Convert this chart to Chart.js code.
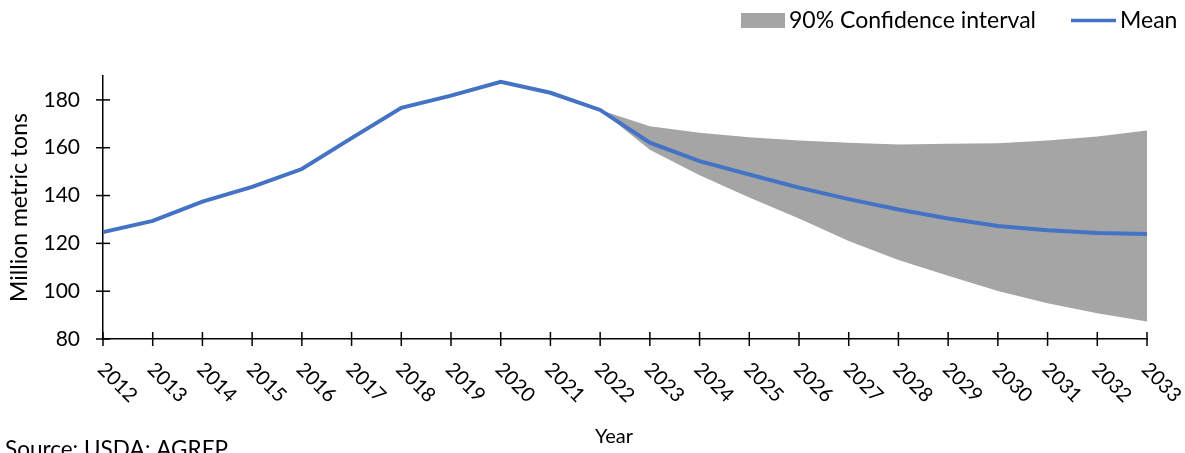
<!DOCTYPE html>
<html>
<head>
<meta charset="utf-8">
<script src="https://cdn.jsdelivr.net/npm/chart.js@4/dist/chart.umd.min.js"></script>
<style>
  html, body { margin: 0; padding: 0; background: #fff; }
  canvas { display: block; }
</style>
</head>
<body>
<canvas id="chart" width="1185" height="453"></canvas>
<script>
// Marketing years on the horizontal axis
const years = ['2012','2013','2014','2015','2016','2017','2018','2019','2020','2021','2022',
               '2023','2024','2025','2026','2027','2028','2029','2030','2031','2032','2033'];

// Mean production path (million metric tons)
const meanValues = [124.7, 129.4, 137.5, 143.6, 151.1, 164.0, 176.7, 181.8, 187.6, 183.0, 175.8,
                    162.1, 154.4, 148.8, 143.3, 138.5, 134.2, 130.4, 127.3, 125.5, 124.3, 123.9];

// 90% confidence interval bounds for the projection years
const upperBound = [null, null, null, null, null, null, null, null, null, null, 175.8,
                    169.0, 166.3, 164.4, 163.0, 162.1, 161.4, 161.7, 161.9, 163.0, 164.7, 167.2];
const lowerBound = [null, null, null, null, null, null, null, null, null, null, 175.8,
                    159.2, 148.5, 139.2, 130.4, 121.0, 113.0, 106.5, 100.1, 95.0, 90.8, 87.3];

// Value-axis tick labels
const yTickValues = [80, 100, 120, 140, 160, 180];

const seriesNames = ['90% Confidence interval', 'Mean'];
const axisTitles = { x: 'Year', y: 'Million metric tons' };
const sourceNote = 'Source: USDA; AGREP';

const FONT = 'Lato, "Open Sans", sans-serif';
const BAND_COLOR = '#A5A5A5';
const LINE_COLOR = '#4472C4';

// Tick marks that cross the axes, rotated year labels, titles and legend
const axisDecor = {
  id: 'axisDecor',
  afterDraw(chart) {
    const { ctx, chartArea: a, scales: { x, y } } = chart;
    ctx.save();
    ctx.strokeStyle = '#000';
    ctx.lineWidth = 1.5;
    ctx.fillStyle = '#000';

    const seg = (x1, y1, x2, y2) => {
      ctx.beginPath(); ctx.moveTo(x1, y1); ctx.lineTo(x2, y2); ctx.stroke();
    };

    // value axis ticks + labels
    ctx.font = `21px ${FONT}`;
    ctx.textAlign = 'right';
    ctx.textBaseline = 'middle';
    yTickValues.forEach(v => {
      const py = y.getPixelForValue(v);
      seg(a.left - 7, py, a.left + 7, py);
      ctx.fillText(String(v), a.left - 23, py);
    });

    // category axis ticks + rotated labels
    ctx.font = `20px ${FONT}`;
    ctx.textAlign = 'left';
    years.forEach((label, i) => {
      const px = x.getPixelForTick(i);
      seg(px, a.bottom - 7, px, a.bottom + 7);
      ctx.save();
      ctx.translate(px - 2, a.bottom + 27);
      ctx.rotate(Math.PI / 4);
      ctx.fillText(label, 0, 0);
      ctx.restore();
    });

    // axis titles
    ctx.textAlign = 'center';
    ctx.font = `23px ${FONT}`;
    ctx.save();
    ctx.translate(20, (a.top + a.bottom) / 2);
    ctx.rotate(-Math.PI / 2);
    ctx.fillText(axisTitles.y, 0, 0);
    ctx.restore();
    ctx.font = `20px ${FONT}`;
    ctx.fillText(axisTitles.x, 614, 437);

    // source note
    ctx.font = `22.5px ${FONT}`;
    ctx.textAlign = 'left';
    ctx.textBaseline = 'top';
    ctx.fillText(sourceNote, 5, 438);

    // legend
    ctx.font = `23px ${FONT}`;
    ctx.textBaseline = 'middle';
    ctx.fillStyle = BAND_COLOR;
    ctx.fillRect(741, 13, 44, 15);
    ctx.fillStyle = '#000';
    ctx.fillText(seriesNames[0], 789, 20.5);
    ctx.strokeStyle = LINE_COLOR;
    ctx.lineWidth = 3.5;
    seg(1071, 20.5, 1116, 20.5);
    ctx.fillText(seriesNames[1], 1120, 20.5);

    ctx.restore();
  }
};

new Chart(document.getElementById('chart'), {
  type: 'line',
  data: {
    labels: years,
    datasets: [
      {
        label: seriesNames[1],
        data: meanValues,
        borderColor: LINE_COLOR,
        borderWidth: 4,
        pointRadius: 0,
        tension: 0,
        fill: false,
        order: 0
      },
      {
        label: seriesNames[0] + ' upper',
        data: upperBound,
        borderWidth: 0,
        borderColor: BAND_COLOR,
        backgroundColor: BAND_COLOR,
        pointRadius: 0,
        fill: '+1',
        order: 1
      },
      {
        label: seriesNames[0] + ' lower',
        data: lowerBound,
        borderWidth: 0,
        borderColor: BAND_COLOR,
        backgroundColor: BAND_COLOR,
        pointRadius: 0,
        fill: false,
        order: 2
      }
    ]
  },
  options: {
    responsive: false,
    devicePixelRatio: 1,
    animation: false,
    events: [],
    layout: { padding: { left: 103, right: 38, top: 76, bottom: 114 } },
    plugins: {
      legend: { display: false },
      tooltip: { enabled: false },
      title: { display: false }
    },
    scales: {
      x: {
        offset: false,
        grid: { display: false, drawTicks: false },
        border: { display: true, color: '#000', width: 1.5 },
        ticks: { display: false }
      },
      y: {
        min: 80,
        max: 190,
        grid: { display: false, drawTicks: false },
        border: { display: true, color: '#000', width: 1.5 },
        ticks: { display: false }
      }
    }
  },
  plugins: [axisDecor]
});
</script>
</body>
</html>
